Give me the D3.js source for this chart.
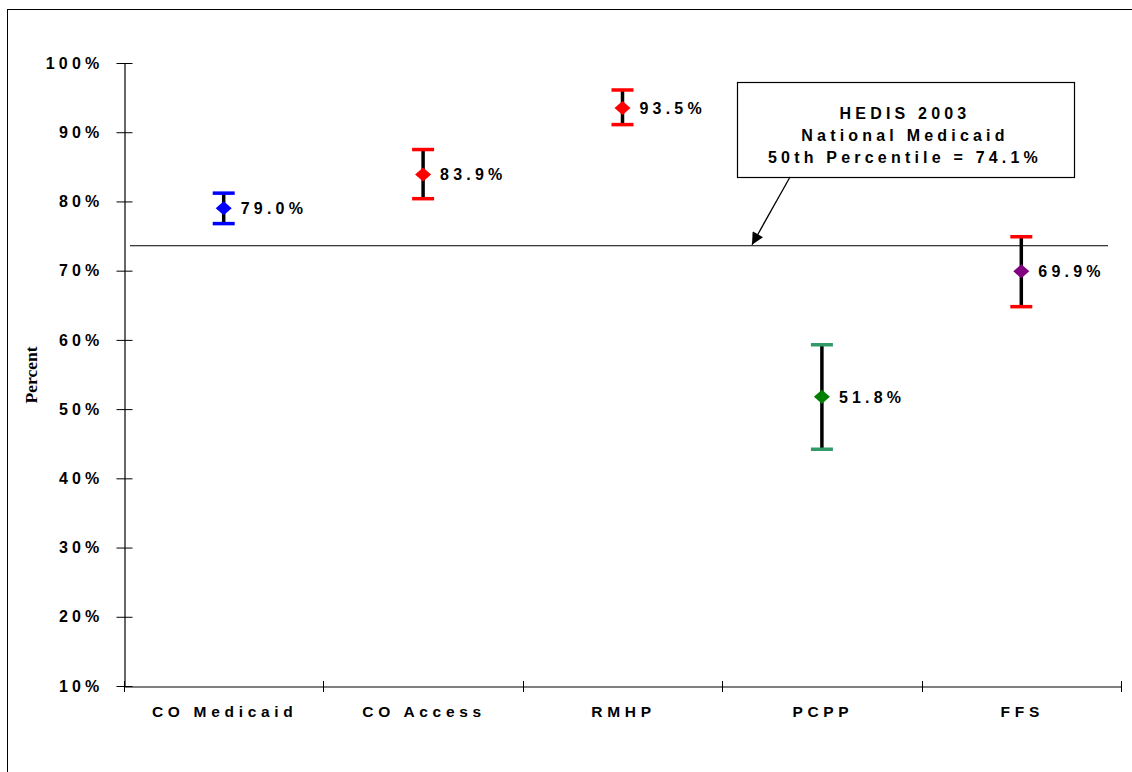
<!DOCTYPE html>
<html>
<head>
<meta charset="utf-8">
<script src="https://cdn.jsdelivr.net/npm/d3@7"></script>
<style>
  body { margin: 0; background: #fff; }
</style>
</head>
<body>
<div class="canvas"></div>
<script>
// data
const plans = ['CO Medicaid', 'CO Access', 'RMHP', 'PCPP', 'FFS'];
const rates = [79.0, 83.9, 93.5, 51.8, 69.9];
const upper = [81.2, 87.5, 96.1, 59.3, 74.9];
const lower = [76.8, 80.4, 91.1, 44.2, 64.8];
const capColors = ['#0000ff', '#ff0000', '#ff0000', '#339966', '#ff0000'];
const dotColors = ['#0000ff', '#ff0000', '#ff0000', '#008000', '#800080'];
const yTicks = [10, 20, 30, 40, 50, 60, 70, 80, 90, 100];
const benchmarkLine = 73.6;
const benchmarkText = ['HEDIS 2003', 'National Medicaid', '50th Percentile = 74.1%'];

const sans = '"Liberation Sans", Arial, sans-serif';
const width = 1132, height = 772;
const svg = d3.select('.canvas')
  .append('svg')
  .attr('width', width)
  .attr('height', height);

// outer frame
svg.append('rect')
  .attr('x', 7.5).attr('y', 9.5)
  .attr('width', 1140).attr('height', 800)
  .attr('fill', 'none').attr('stroke', '#000').attr('stroke-width', 1);

const x = d3.scaleBand()
  .domain(plans)
  .range([124, 1121]);

const y = d3.scaleLinear()
  .domain([10, 100])
  .range([686, 63]);

// y axis
const yAxisGroup = svg.append('g').attr('transform', 'translate(124.5, 0)');
yAxisGroup.call(d3.axisLeft(y).tickValues(yTicks).tickSize(0).tickFormat(d => d + '%'));
yAxisGroup.select('.domain').attr('stroke', '#000').attr('stroke-width', 1.2);
yAxisGroup.selectAll('.tick line')
  .attr('x1', -8).attr('x2', 8).attr('stroke', '#000');
yAxisGroup.selectAll('.tick text')
  .attr('x', -21)
  .attr('fill', '#000')
  .style('font-family', sans)
  .style('font-size', '16px')
  .style('font-weight', 'bold')
  .style('letter-spacing', '4.2px');

// x axis
const xAxisGroup = svg.append('g').attr('transform', 'translate(0, 686.5)');
xAxisGroup.call(d3.axisBottom(x).tickSize(0));
xAxisGroup.select('.domain').attr('stroke', '#000').attr('stroke-width', 1.2);
xAxisGroup.selectAll('.tick line').remove();
xAxisGroup.selectAll('.tick text')
  .attr('y', 19)
  .attr('dx', '1px')
  .attr('fill', '#000')
  .style('font-family', sans)
  .style('font-size', '15.5px')
  .style('font-weight', 'bold')
  .style('letter-spacing', '4.7px');
// boundary ticks between categories
const bounds = plans.map(p => x(p)).concat([x.range()[1]]);
svg.append('g').selectAll('line')
  .data(bounds)
  .enter().append('line')
  .attr('x1', d => Math.round(d) + 0.5).attr('x2', d => Math.round(d) + 0.5)
  .attr('y1', 681).attr('y2', 692)
  .attr('stroke', '#000');

// y title
svg.append('text')
  .attr('transform', 'translate(37, 375) rotate(-90)')
  .attr('text-anchor', 'middle')
  .style('font-family', '"Liberation Serif", "Times New Roman", serif')
  .style('font-weight', 'bold')
  .style('font-size', '17.5px')
  .text('Percent');

// benchmark line
svg.append('line')
  .attr('x1', 130).attr('x2', 1108)
  .attr('y1', y(benchmarkLine)).attr('y2', y(benchmarkLine))
  .attr('stroke', '#000').attr('stroke-width', 1);

// annotation box
const box = svg.append('g');
box.append('rect')
  .attr('x', 737.5).attr('y', 82.5)
  .attr('width', 337).attr('height', 95)
  .attr('fill', '#fff').attr('stroke', '#000').attr('stroke-width', 1.2);
box.selectAll('text')
  .data(benchmarkText)
  .enter().append('text')
  .attr('x', 905)
  .attr('y', (d, i) => 119 + i * 22)
  .attr('text-anchor', 'middle')
  .style('font-family', sans)
  .style('font-size', '16px')
  .style('font-weight', 'bold')
  .style('letter-spacing', '4.2px')
  .text(d => d);

// arrow
svg.append('defs').append('marker')
  .attr('id', 'arrow')
  .attr('viewBox', '0 0 10 10')
  .attr('refX', 10).attr('refY', 5)
  .attr('markerWidth', 14).attr('markerHeight', 12)
  .attr('markerUnits', 'userSpaceOnUse')
  .attr('orient', 'auto')
  .append('path').attr('d', 'M0,0 L10,5 L0,10 Z').attr('fill', '#000');
svg.append('line')
  .attr('x1', 790).attr('y1', 177)
  .attr('x2', 752).attr('y2', y(benchmarkLine) - 1)
  .attr('stroke', '#000').attr('stroke-width', 1.3)
  .attr('marker-end', 'url(#arrow)');

// error bars
const cx = p => x(p) + x.bandwidth() / 2;
const bars = svg.append('g').selectAll('g')
  .data(plans)
  .enter().append('g');

bars.append('line')
  .attr('x1', cx).attr('x2', cx)
  .attr('y1', (d, i) => y(upper[i])).attr('y2', (d, i) => y(lower[i]))
  .attr('stroke', '#000').attr('stroke-width', 3.5);

[upper, lower].forEach(arr => {
  bars.append('line')
    .attr('x1', d => cx(d) - 11).attr('x2', d => cx(d) + 11)
    .attr('y1', (d, i) => y(arr[i])).attr('y2', (d, i) => y(arr[i]))
    .attr('stroke', (d, i) => capColors[i]).attr('stroke-width', 3.5);
});

bars.append('path')
  .attr('d', (d, i) => {
    const px = cx(d), py = y(rates[i]);
    return `M${px - 8},${py} L${px},${py - 7} L${px + 8},${py} L${px},${py + 7} Z`;
  })
  .attr('fill', (d, i) => dotColors[i]);

bars.append('text')
  .attr('x', d => cx(d) + 17)
  .attr('y', (d, i) => y(rates[i]) + 6)
  .style('font-family', sans)
  .style('font-size', '16px')
  .style('font-weight', 'bold')
  .style('letter-spacing', '4.2px')
  .text((d, i) => rates[i].toFixed(1) + '%');
</script>
</body>
</html>
